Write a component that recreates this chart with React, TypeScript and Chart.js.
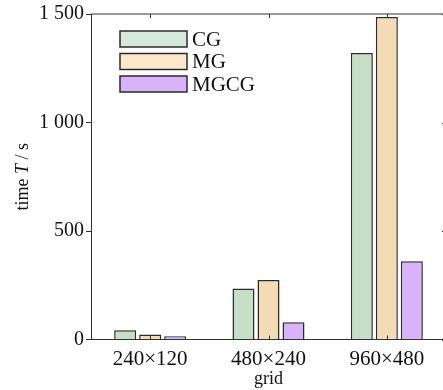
import React, { useEffect, useRef } from "react";
import { Chart, registerables } from "chart.js";

Chart.register(...registerables);

const categories = ["240×120", "480×240", "960×480"];
const seriesNames = ["CG", "MG", "MGCG"];
const cgValues = [43, 235, 1320];
const mgValues = [23, 274, 1486];
const mgcgValues = [15, 80, 361];
const yTicks = [0, 500, 1000, 1500];

const barColors = ["#c4dfc6", "#f2dbb5", "#d9b3fa"];
const legendColors = ["#d5e8da", "#fde8cb", "#d8b3fa"];
const edge = "#2b2b2b";
const FONT = "'Liberation Serif', 'DejaVu Serif', serif";

const fmt = (v: number) => {
  const s = String(v);
  return s.length > 3 ? s.slice(0, s.length - 3) + " " + s.slice(-3) : s;
};

const decorPlugin = {
  id: "decor",
  afterDraw(chart: any) {
    const { ctx, chartArea } = chart;
    const { left, right, top, bottom } = chartArea;
    const xs = chart.scales.x;
    const ys = chart.scales.y;
    ctx.save();
    ctx.strokeStyle = "#333";
    ctx.lineWidth = 1;
    // top & right borders
    ctx.beginPath();
    ctx.moveTo(left, top);
    ctx.lineTo(right, top);
    ctx.lineTo(right, bottom);
    ctx.stroke();
    // inward ticks top/bottom
    categories.forEach((_, i) => {
      const x = Math.round(xs.getPixelForValue(i)) + 0.5;
      ctx.beginPath();
      ctx.moveTo(x, top);
      ctx.lineTo(x, top + 4);
      ctx.moveTo(x, bottom);
      ctx.lineTo(x, bottom - 4);
      ctx.stroke();
    });
    // inward ticks right
    yTicks.forEach((v) => {
      const y = Math.round(ys.getPixelForValue(v)) + 0.5;
      ctx.beginPath();
      ctx.moveTo(right, y);
      ctx.lineTo(right - 4, y);
      ctx.stroke();
    });

    // legend
    const bx = 120;
    const bw = 67;
    const bh = 16;
    const rowY = [39, 61.5, 84];
    ctx.font = `21px ${FONT}`;
    ctx.textBaseline = "middle";
    ctx.textAlign = "left";
    seriesNames.forEach((name, i) => {
      ctx.fillStyle = legendColors[i];
      ctx.fillRect(bx, rowY[i] - bh / 2, bw, bh);
      ctx.strokeStyle = edge;
      ctx.lineWidth = 1.5;
      ctx.strokeRect(bx, rowY[i] - bh / 2, bw, bh);
      ctx.fillStyle = "#111";
      ctx.fillText(name, bx + bw + 5, rowY[i] + 1);
    });

    // x title
    ctx.font = `18px ${FONT}`;
    ctx.textAlign = "center";
    ctx.fillStyle = "#111";
    ctx.fillText("grid", (left + 446) / 2, 379);

    // y title with italic T
    const parts = [
      { t: "time ", f: `18px ${FONT}` },
      { t: "T", f: `italic 18px ${FONT}` },
      { t: " / s", f: `18px ${FONT}` },
    ];
    let total = 0;
    const widths = parts.map((p) => {
      ctx.font = p.f;
      const w = ctx.measureText(p.t).width;
      total += w;
      return w;
    });
    ctx.translate(23, (top + bottom) / 2);
    ctx.rotate(-Math.PI / 2);
    ctx.textAlign = "left";
    let cx = -total / 2;
    parts.forEach((p, i) => {
      ctx.font = p.f;
      ctx.fillText(p.t, cx, 0);
      cx += widths[i];
    });
    ctx.restore();
  },
};

export default function App() {
  const ref = useRef<HTMLCanvasElement | null>(null);
  useEffect(() => {
    if (!ref.current) return;
    const chart = new Chart(ref.current, {
      type: "bar",
      data: {
        labels: categories,
        datasets: [cgValues, mgValues, mgcgValues].map((d, i) => ({
          label: seriesNames[i],
          data: d,
          backgroundColor: barColors[i],
          borderColor: edge,
          borderWidth: 1.5,
          categoryPercentage: 0.634,
          barPercentage: 0.88,
        })),
      },
      options: {
        responsive: false,
        animation: false,
        layout: { padding: { top: 14, right: 14, left: 0, bottom: 0 } },
        plugins: { legend: { display: false }, tooltip: { enabled: false } },
        scales: {
          x: {
            grid: { display: false, drawTicks: false },
            border: { display: true, color: "#333", width: 1 },
            ticks: {
              color: "#111",
              font: { family: FONT, size: 21 },
              padding: 7,
              maxRotation: 0,
            },
            afterFit: (s: any) => {
              s.height = 50.5;
            },
          },
          y: {
            min: 0,
            max: 1500,
            afterBuildTicks: (s: any) => {
              s.ticks = yTicks.map((v) => ({ value: v }));
            },
            grid: {
              drawOnChartArea: false,
              drawTicks: true,
              tickLength: 5,
              color: "#333",
            },
            border: { display: true, color: "#333", width: 1 },
            ticks: {
              color: "#111",
              font: { family: FONT, size: 20 },
              padding: 2,
              callback: (v: any) => fmt(Number(v)),
            },
            afterFit: (s: any) => {
              s.width = 91;
            },
          },
        },
      },
      plugins: [decorPlugin],
    });
    return () => chart.destroy();
  }, []);
  return (
    <div style={{ position: "absolute", left: 0, top: 0, width: 460, height: 390 }}>
      <canvas ref={ref} width={460} height={390} style={{ display: "block" }} />
    </div>
  );
}
